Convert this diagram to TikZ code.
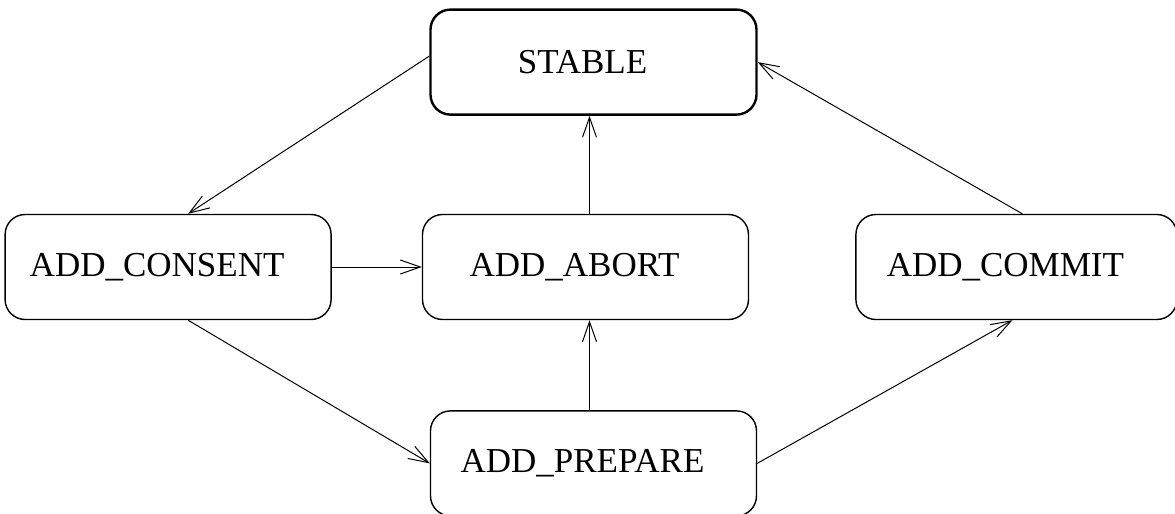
\documentclass[tikz,border=0pt]{standalone}
\usepackage{fontspec}
\setmainfont{Liberation Serif}
\usetikzlibrary{positioning,arrows.meta}

\tikzstyle{state} = [draw, rectangle, rounded corners=10pt, minimum width=163pt, minimum height=52.5pt, line width=0.7pt, inner sep=0pt, font=\fontsize{17.5}{20}\selectfont, execute at end node={\hspace*{11pt}}]
\tikzstyle{stable-state} = [state, line width=1.2pt]
\tikzstyle{trans} = [line width=0.5pt, -{Straight Barb[length=10pt,width=7pt]}]

\begin{document}
\begin{tikzpicture}[x=0.5pt,y=-0.5pt]
	\useasboundingbox (0,0) rectangle (1175,514);

	 \node [state] (Abort) at (585.5,267) {ADD\_ABORT};
	 \node [state, left=45pt of Abort] (Consent) {ADD\_CONSENT};
	 \node [state, right=53pt of Abort, minimum width=160.5pt] (Commit) {ADD\_COMMIT};
	 \node [stable-state, above=49pt of Abort, xshift=4pt] (Stable) {STABLE};
	 \node [state, below=45pt of Abort, xshift=4pt] (Prepare) {ADD\_PREPARE};

	\draw [trans] ([yshift=3pt]Stable.west) -- ([xshift=10pt]Consent.north);
	\draw [trans] (Consent.east) -- (Abort.west);
	\draw [trans] ([xshift=10pt]Consent.south) -- (Prepare.west);

	\draw [trans] ([xshift=-2pt]Prepare.north) -- ([xshift=2pt]Abort.south);
	\draw [trans] ([xshift=2pt]Abort.north) -- ([xshift=-2pt]Stable.south);

	\draw [trans] (Prepare.east) -- ([xshift=-2pt]Commit.south);
	\draw [trans] ([xshift=3pt]Commit.north) -- (Stable.east);

	\end{tikzpicture}
\end{document}
